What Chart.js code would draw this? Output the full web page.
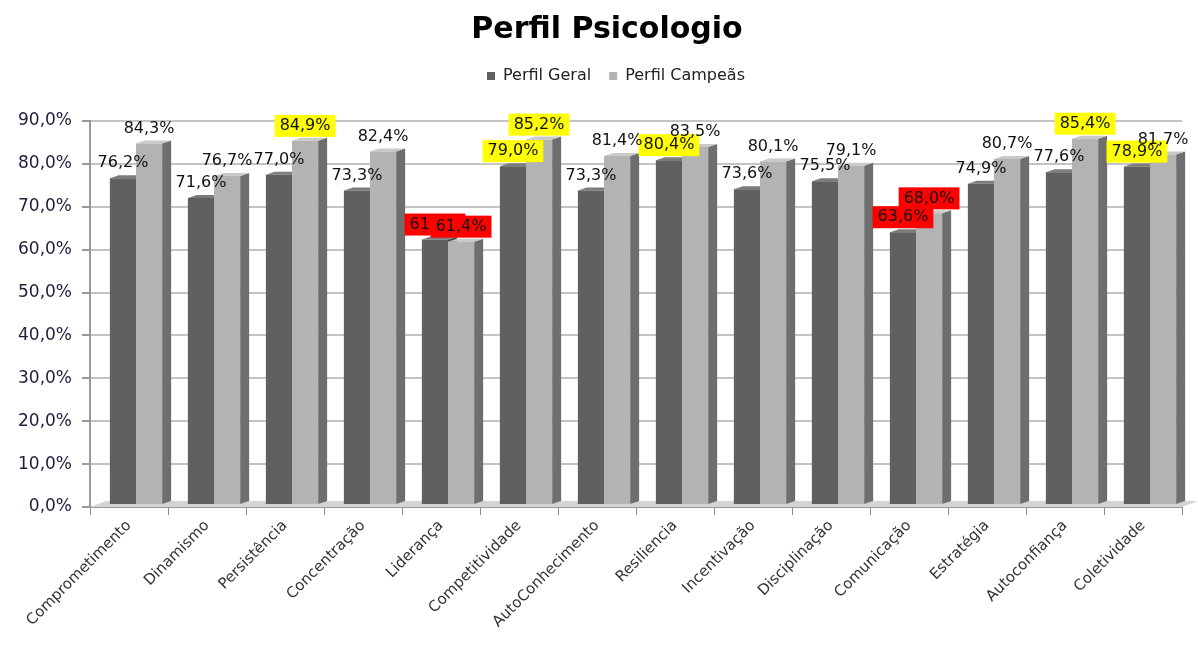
<!DOCTYPE html>
<html lang="pt">
<head>
    <meta charset="UTF-8">
    <title>Perfil Psicologio</title>
    <script src="https://cdn.jsdelivr.net/npm/chart.js@4.4.0/dist/chart.umd.min.js"></script>
    <style>
        html, body { margin: 0; padding: 0; background: #fff; }
        .chart-box { width: 1198px; height: 646px; }
    </style>
</head>
<body>
    <div class="chart-box">
        <canvas id="perfilChart" width="1198" height="646"></canvas>
    </div>

    <script>
        // categories and values (percent)
        const categories = ['Comprometimento', 'Dinamismo', 'Persistência', 'Concentração', 'Liderança',
            'Competitividade', 'AutoConhecimento', 'Resiliencia', 'Incentivação', 'Disciplinação',
            'Comunicação', 'Estratégia', 'Autoconfiança', 'Coletividade'];
        const perfilGeral = [76.2, 71.6, 77.0, 73.3, 61.9, 79.0, 73.3, 80.4, 73.6, 75.5, 63.6, 74.9, 77.6, 78.9];
        const perfilCampeas = [84.3, 76.7, 84.9, 82.4, 61.4, 85.2, 81.4, 83.5, 80.1, 79.1, 68.0, 80.7, 85.4, 81.7];
        const yTicks = [0, 10, 20, 30, 40, 50, 60, 70, 80, 90];

        // label highlight colours (styles, kept apart from the data)
        const Y = '#ffff00', R = '#ff0000';
        const labelBgGeral = [null, null, null, null, R, Y, null, Y, null, null, R, null, null, Y];
        const labelBgCampeas = [null, null, Y, null, R, Y, null, null, null, null, R, null, Y, null];

        const fmt = v => v.toFixed(1).replace('.', ',') + '%';
        const DEPTH_X = 9, DEPTH_Y = -3;   // side face of the columns
        const SHIFT_X = 7, SHIFT_Y = -2;   // columns stand a bit behind the front axis

        // floor + side/top faces so bars look like the excel 3d columns
        const bars3d = {
            id: 'bars3d',
            beforeDatasetsDraw(chart) {
                const ctx = chart.ctx;
                const area = chart.chartArea;
                ctx.save();
                ctx.fillStyle = '#d4d4d4';
                ctx.beginPath();
                ctx.moveTo(area.left, area.bottom);
                ctx.lineTo(area.left + 16, area.bottom - 6);
                ctx.lineTo(area.right + 16, area.bottom - 6);
                ctx.lineTo(area.right, area.bottom);
                ctx.closePath();
                ctx.fill();
                ctx.restore();

                ctx.save();
                ctx.translate(SHIFT_X, SHIFT_Y);
                const faces = [
                    { side: '#4c4c4c', top: '#7c7c7c' },
                    { side: '#6e6e6e', top: '#c9c9c9' }
                ];
                chart.data.datasets.forEach((ds, d) => {
                    const meta = chart.getDatasetMeta(d);
                    meta.data.forEach(el => {
                        const left = el.x - el.width / 2;
                        const right = el.x + el.width / 2;
                        ctx.fillStyle = faces[d].side;
                        ctx.beginPath();
                        ctx.moveTo(right, el.y);
                        ctx.lineTo(right + DEPTH_X, el.y + DEPTH_Y);
                        ctx.lineTo(right + DEPTH_X, el.base + DEPTH_Y);
                        ctx.lineTo(right, el.base);
                        ctx.closePath();
                        ctx.fill();
                        ctx.fillStyle = faces[d].top;
                        ctx.beginPath();
                        ctx.moveTo(left, el.y);
                        ctx.lineTo(left + DEPTH_X, el.y + DEPTH_Y);
                        ctx.lineTo(right + DEPTH_X, el.y + DEPTH_Y);
                        ctx.lineTo(right, el.y);
                        ctx.closePath();
                        ctx.fill();
                    });
                });
                // keep the translation on for the front faces, undone in valueLabels
            }
        };

        // value labels above the bars, some with coloured boxes
        const valueLabels = {
            id: 'valueLabels',
            afterDatasetsDraw(chart) {
                const ctx = chart.ctx;
                const bgs = [labelBgGeral, labelBgCampeas];
                ctx.font = '16px "DejaVu Sans", Verdana, sans-serif';
                ctx.textAlign = 'center';
                ctx.textBaseline = 'middle';
                chart.data.datasets.forEach((ds, d) => {
                    const meta = chart.getDatasetMeta(d);
                    meta.data.forEach((el, i) => {
                        const text = fmt(ds.data[i]);
                        const x = el.x;
                        const y = el.y - 15;
                        const bg = bgs[d][i];
                        if (bg) {
                            const w = ctx.measureText(text).width + 10;
                            ctx.fillStyle = bg;
                            ctx.fillRect(x - w / 2, y - 11, w, 22);
                        }
                        ctx.fillStyle = '#111';
                        ctx.fillText(text, x, y);
                    });
                });
                ctx.restore();
            }
        };

        // extra room under the legend, and title/legend centred over the plot
        const layoutTweaks = {
            id: 'layoutTweaks',
            beforeInit(chart) {
                const fit = chart.legend.fit;
                chart.legend.fit = function () {
                    fit.bind(chart.legend)();
                    this.height += 27;
                };
            },
            afterLayout(chart) {
                chart.titleBlock.left += 32;
                chart.legend.left += 50;
            }
        };

        const ctx = document.getElementById('perfilChart').getContext('2d');
        new Chart(ctx, {
            type: 'bar',
            data: {
                labels: categories,
                datasets: [
                    { label: 'Perfil Geral', data: perfilGeral, backgroundColor: '#606060' },
                    { label: 'Perfil Campeãs', data: perfilCampeas, backgroundColor: '#b3b3b3' }
                ]
            },
            options: {
                responsive: false,
                animation: false,
                devicePixelRatio: 1,
                layout: { padding: { left: 0, right: 16, top: 0, bottom: 0 } },
                datasets: {
                    bar: { barPercentage: 1.0, categoryPercentage: 0.67 }
                },
                scales: {
                    x: {
                        grid: { display: true, drawOnChartArea: false, offset: true, color: '#8c8c8c', tickLength: 8 },
                        border: { color: '#9a9a9a', width: 2 },
                        ticks: {
                            autoSkip: false,
                            minRotation: 45,
                            maxRotation: 45,
                            padding: 2,
                            color: '#333',
                            font: { family: '"DejaVu Sans", sans-serif', size: 15 }
                        },
                        afterFit(scale) { scale.height = 139; }
                    },
                    y: {
                        min: 0,
                        max: 90,
                        afterBuildTicks(scale) { scale.ticks = yTicks.map(v => ({ value: v })); },
                        grid: { color: '#c4c4c4', lineWidth: 2, tickLength: 8, tickColor: '#9a9a9a' },
                        border: { color: '#9a9a9a', width: 2 },
                        ticks: {
                            padding: 10,
                            color: '#1e1e3c',
                            font: { family: '"DejaVu Sans", Verdana, sans-serif', size: 17 },
                            callback: v => fmt(v)
                        },
                        afterFit(scale) { scale.width = 90; }
                    }
                },
                plugins: {
                    title: {
                        display: true,
                        text: 'Perfil Psicologio',
                        color: '#000',
                        font: { family: '"DejaVu Sans", sans-serif', size: 30, weight: 'bold' },
                        padding: { top: 12, bottom: 2 }
                    },
                    legend: {
                        display: true,
                        labels: {
                            boxWidth: 8,
                            boxHeight: 8,
                            padding: 18,
                            color: '#222',
                            font: { family: '"DejaVu Sans", sans-serif', size: 16 }
                        }
                    },
                    tooltip: { enabled: false }
                }
            },
            plugins: [bars3d, valueLabels, layoutTweaks]
        });
    </script>
</body>
</html>
